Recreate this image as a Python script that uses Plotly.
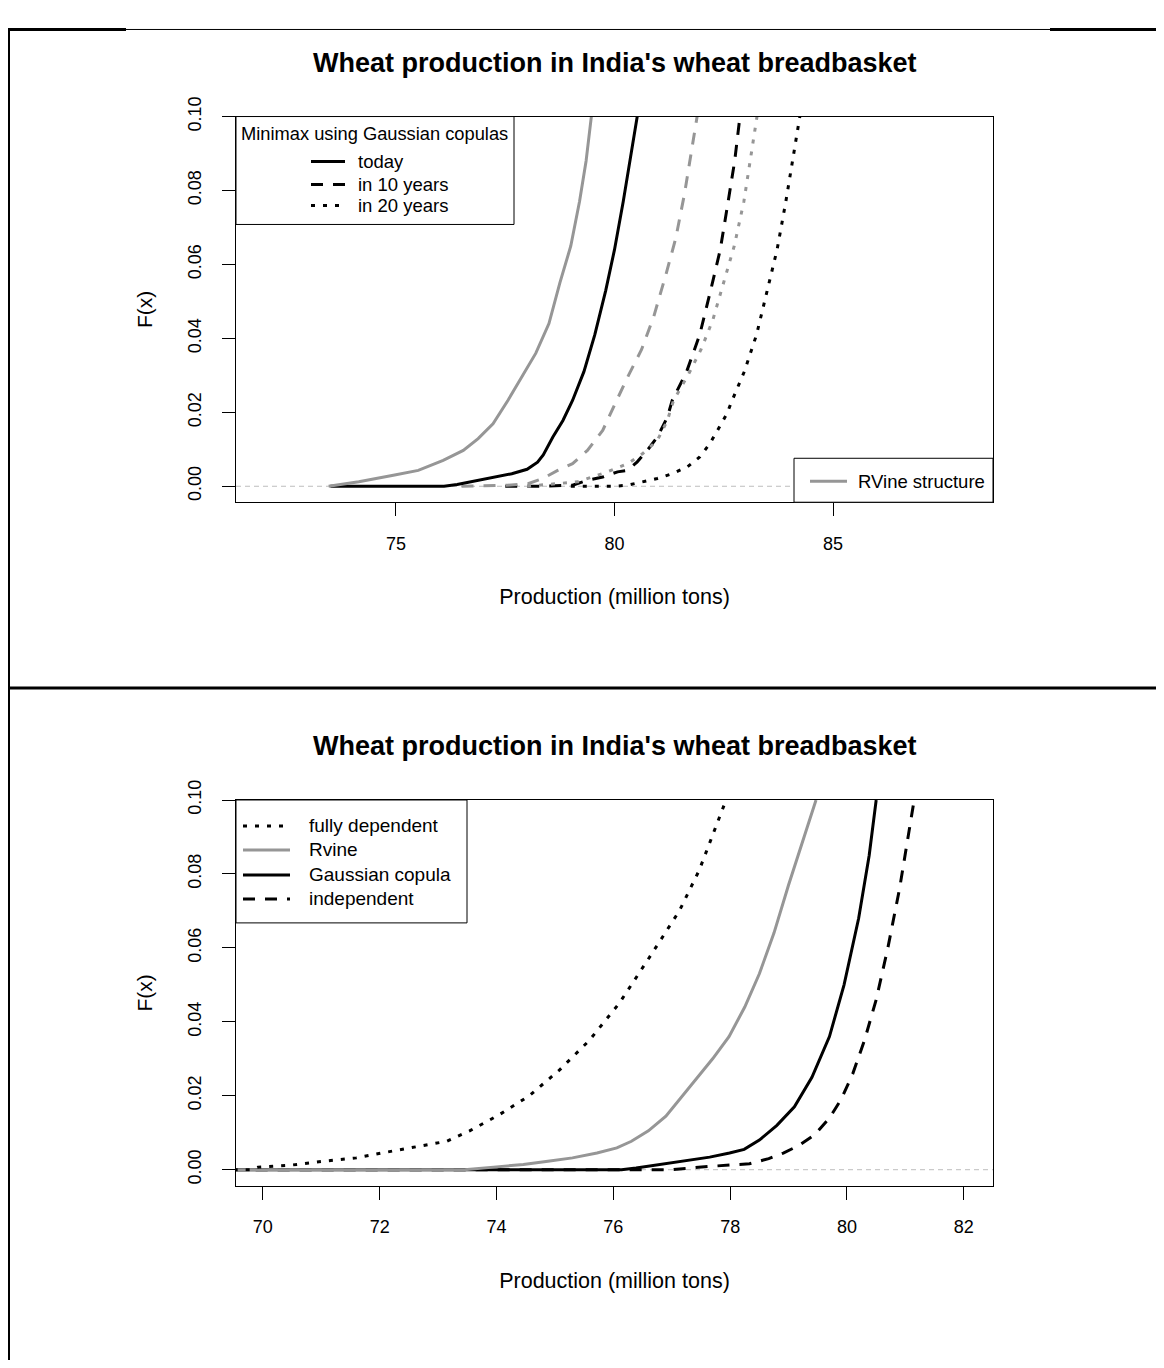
import plotly.graph_objects as go

FONT = "Liberation Sans, Arial, sans-serif"
PAGE_W, PAGE_H = 1164, 1368
OFF = 8                      # browser body margin
W, H = PAGE_W - 2 * OFF, PAGE_H - 2 * OFF
VSCALE, VSHIFT = 0.986, 19.5  # observed vertical mapping of the photographed page
GRAY = "#969696"
DASH = "12px,10px"
DOT = "4px,8px"

# ---------------- data: top panel (minimax, Gaussian copulas vs RVine) ----------------
rvine_today_x = [73.46, 74.15, 74.94, 75.51, 76.08, 76.54, 76.88, 77.22, 77.56, 77.9, 78.2, 78.5, 78.75, 79.0, 79.2, 79.35, 79.47]
rvine_today_y = [0, 0.0012, 0.003, 0.0043, 0.007, 0.0097, 0.0129, 0.0169, 0.0232, 0.030, 0.036, 0.044, 0.055, 0.065, 0.077, 0.088, 0.100]

gauss_today_x = [73.5, 76.1, 76.4, 76.8, 77.23, 77.65, 78.0, 78.24, 78.37, 78.59, 78.82, 79.04, 79.3, 79.55, 79.8, 80.0, 80.2, 80.35, 80.52]
gauss_today_y = [0, 0, 0.0005, 0.0014, 0.0023, 0.0034, 0.0046, 0.0065, 0.0085, 0.0133, 0.0178, 0.0232, 0.031, 0.041, 0.053, 0.064, 0.077, 0.088, 0.100]

rvine_10_x = [76.5, 77.56, 78.02, 78.36, 78.70, 79.04, 79.38, 79.73, 80.0, 80.32, 80.62, 80.9, 81.17, 81.4, 81.6, 81.76, 81.89]
rvine_10_y = [0, 0.0003, 0.0007, 0.0021, 0.0043, 0.0061, 0.0097, 0.0151, 0.022, 0.030, 0.037, 0.046, 0.057, 0.067, 0.079, 0.090, 0.100]

gauss_10_x = [77.5, 78.3, 79.04, 79.38, 79.73, 80.07, 80.30, 80.52, 80.75, 80.98, 81.21, 81.32, 81.65, 81.95, 82.2, 82.42, 82.6, 82.75, 82.87]
gauss_10_y = [0, 0, 0.0003, 0.0016, 0.0025, 0.0039, 0.0043, 0.0066, 0.0097, 0.0133, 0.0187, 0.0232, 0.031, 0.041, 0.053, 0.064, 0.077, 0.088, 0.100]

rvine_20_x = [78.0, 79.16, 79.84, 80.3, 80.64, 80.98, 81.21, 81.35, 81.68, 81.98, 82.25, 82.5, 82.74, 82.96, 83.12, 83.26]
rvine_20_y = [0, 0.0012, 0.0039, 0.0061, 0.0088, 0.0124, 0.0178, 0.0232, 0.030, 0.037, 0.045, 0.055, 0.065, 0.077, 0.089, 0.100]

gauss_20_x = [79.0, 80.0, 80.3, 80.64, 80.98, 81.32, 81.66, 81.95, 82.18, 82.4, 82.57, 82.69, 82.97, 83.25, 83.5, 83.72, 83.92, 84.08, 84.24]
gauss_20_y = [0, 0, 0.0003, 0.0012, 0.0021, 0.0034, 0.0052, 0.0079, 0.0115, 0.016, 0.0196, 0.0232, 0.031, 0.041, 0.053, 0.064, 0.077, 0.088, 0.100]

# ---------------- data: bottom panel (dependence structures) ----------------
fully_dep_x = [69.5, 69.8, 69.92, 70.46, 71.05, 71.6, 72.1, 72.61, 73.15, 73.54, 74.05, 74.56, 75.08, 75.59, 76.1, 76.6, 77.13, 77.47, 77.73, 77.93]
fully_dep_y = [0, 0, 0.0007, 0.0012, 0.0023, 0.0032, 0.0047, 0.0061, 0.0077, 0.0105, 0.0149, 0.020, 0.027, 0.035, 0.045, 0.057, 0.070, 0.081, 0.092, 0.100]

rvine_b_x = [69.5, 73.45, 73.95, 74.46, 74.88, 75.30, 75.72, 76.06, 76.31, 76.6, 76.9, 77.13, 77.4, 77.7, 77.98, 78.25, 78.5, 78.75, 79.0, 79.2, 79.35, 79.47]
rvine_b_y = [0, 0, 0.0007, 0.0014, 0.0023, 0.0032, 0.0045, 0.0059, 0.0077, 0.0105, 0.0145, 0.019, 0.024, 0.030, 0.036, 0.044, 0.053, 0.064, 0.077, 0.087, 0.094, 0.100]

gauss_b_x = [69.5, 76.14, 76.39, 76.81, 77.23, 77.65, 77.99, 78.24, 78.5, 78.8, 79.1, 79.4, 79.7, 79.95, 80.2, 80.38, 80.5]
gauss_b_y = [0, 0, 0.00045, 0.0014, 0.0023, 0.0034, 0.0045, 0.0055, 0.0080, 0.012, 0.017, 0.025, 0.036, 0.050, 0.068, 0.085, 0.100]

indep_x = [69.5, 76.98, 77.65, 78.33, 78.66, 78.91, 79.17, 79.45, 79.7, 79.9, 80.1, 80.3, 80.5, 80.7, 80.9, 81.03, 81.15]
indep_y = [0, 0, 0.0009, 0.0016, 0.0030, 0.0045, 0.0065, 0.0095, 0.014, 0.019, 0.026, 0.035, 0.046, 0.060, 0.076, 0.088, 0.100]

# axes
top_x_range = [71.34, 88.66]
bot_x_range = [69.54, 82.50]
y_range = [-0.00432, 0.10001]
y_ticks = [0, 0.02, 0.04, 0.06, 0.08, 0.10]
top_x_ticks = [75, 80, 85]
bot_x_ticks = [70, 72, 74, 76, 78, 80, 82]

TITLE = "Wheat production in India's wheat breadbasket"
XTITLE = "Production (million tons)"
YTITLE = "F(x)"

top_legend_title = "Minimax using Gaussian copulas"
top_legend_labels = ["today", "in 10 years", "in 20 years"]
top_legend_dashes = ["solid", DASH, DOT]
top_legend2_label = "RVine structure"
bot_legend_labels = ["fully dependent", "Rvine", "Gaussian copula", "independent"]
bot_legend_colors = ["black", GRAY, "black", "black"]
bot_legend_dashes = [DOT, "solid", "solid", DASH]


def px(x):
    return (x - OFF) / W


def py(y):
    page_y = (y - VSHIFT) / VSCALE
    return 1 - (page_y - OFF) / H


fig = go.Figure()


def add(x, y, color, dash, xa, ya):
    fig.add_trace(go.Scatter(x=x, y=y, mode="lines",
                             line=dict(color=color, width=3, dash=dash),
                             xaxis=xa, yaxis=ya, showlegend=False, hoverinfo="skip"))


# top panel traces
add(gauss_20_x, gauss_20_y, "black", DOT, "x", "y")
add(gauss_10_x, gauss_10_y, "black", DASH, "x", "y")
add(rvine_20_x, rvine_20_y, GRAY, DOT, "x", "y")
add(rvine_10_x, rvine_10_y, GRAY, DASH, "x", "y")
add(gauss_today_x, gauss_today_y, "black", "solid", "x", "y")
add(rvine_today_x, rvine_today_y, GRAY, "solid", "x", "y")

# bottom panel traces
add(indep_x, indep_y, "black", DASH, "x2", "y2")
add(gauss_b_x, gauss_b_y, "black", "solid", "x2", "y2")
add(rvine_b_x, rvine_b_y, GRAY, "solid", "x2", "y2")
add(fully_dep_x, fully_dep_y, "black", DOT, "x2", "y2")

axis_common = dict(showline=True, linecolor="black", linewidth=1, mirror=True,
                   ticks="outside", ticklen=13, tickwidth=1, tickcolor="black",
                   showgrid=False, zeroline=False,
                   tickfont=dict(family=FONT, size=18, color="black"))

fig.update_layout(
    width=W, height=H, autosize=False,
    margin=dict(l=0, r=0, t=0, b=0),
    paper_bgcolor="white", plot_bgcolor="white",
    showlegend=False,
    font=dict(family=FONT, color="black"),
    xaxis=dict(domain=[px(236), px(993)], anchor="y", range=top_x_range,
               tickvals=top_x_ticks, ticklabelstandoff=12,
               title=dict(text=XTITLE, font=dict(size=21.5), standoff=36), **axis_common),
    yaxis=dict(domain=[py(502), py(116)], anchor="x", range=y_range,
               tickvals=y_ticks, tickformat=".2f", tickangle=-90, ticklabelstandoff=14,
               title=dict(text=YTITLE, font=dict(size=21), standoff=26), **axis_common),
    xaxis2=dict(domain=[px(236), px(993)], anchor="y2", range=bot_x_range,
                tickvals=bot_x_ticks, ticklabelstandoff=12,
                title=dict(text=XTITLE, font=dict(size=21.5), standoff=36), **axis_common),
    yaxis2=dict(domain=[py(1186), py(800)], anchor="x2", range=y_range,
                tickvals=y_ticks, tickformat=".2f", tickangle=-90, ticklabelstandoff=14,
                title=dict(text=YTITLE, font=dict(size=21), standoff=26), **axis_common),
)

shapes = []
annotations = []

# reference line at F(x)=0
for xr, yr in (("x domain", "y"), ("x2 domain", "y2")):
    shapes.append(dict(type="line", xref=xr, yref=yr, x0=0, x1=1, y0=0, y1=0,
                       line=dict(color="#bdbdbd", width=1, dash="5px,4px"), layer="below"))


def pline(x0, y0, x1, y1, width=1, color="black", dash="solid"):
    shapes.append(dict(type="line", xref="paper", yref="paper",
                       x0=px(x0), y0=py(y0), x1=px(x1), y1=py(y1),
                       line=dict(color=color, width=width, dash=dash)))


def prect(x0, y0, x1, y1):
    shapes.append(dict(type="rect", xref="paper", yref="paper",
                       x0=px(x0), y0=py(y0), x1=px(x1), y1=py(y1),
                       line=dict(color="black", width=1), fillcolor="white"))


def ptext(x, y, text, size=18, xanchor="left"):
    annotations.append(dict(xref="paper", yref="paper", x=px(x), y=py(y), text=text,
                            showarrow=False, xanchor=xanchor, yanchor="middle",
                            font=dict(family=FONT, size=size, color="black")))


# top-left legend
prect(236, 116, 514, 224)
ptext(239, 133, top_legend_title, size=18.3)
for i, (lab, d) in enumerate(zip(top_legend_labels, top_legend_dashes)):
    yy = [161, 184, 205][i]
    pline(311, yy, 345, yy, width=3, dash=d)
    ptext(356, yy, lab, size=18.5)

# top-right legend
prect(794, 458, 993, 502)
pline(810, 481, 847, 481, width=3, color=GRAY)
ptext(856, 481, top_legend2_label, size=18.5)

# bottom legend
prect(236, 800, 467, 923)
for i, (lab, c, d) in enumerate(zip(bot_legend_labels, bot_legend_colors, bot_legend_dashes)):
    yy = [826, 850, 875, 899][i]
    pline(243, yy, 290, yy, width=3, color=c, dash=d)
    ptext(307, yy, lab, size=19)

# titles
ptext(614.5, 62, "<b>" + TITLE + "</b>", size=27, xanchor="center")
ptext(614.5, 746, "<b>" + TITLE + "</b>", size=27, xanchor="center")

# page frame lines (top line as high as the page allows)
top_line_y = VSHIFT + VSCALE * (OFF + 1.5)
pline(8, top_line_y, 126, top_line_y, width=3)
pline(126, top_line_y, 1050, top_line_y, width=1)
pline(1050, top_line_y, 1156, top_line_y, width=3)
pline(9, top_line_y - 1, 9, 1368, width=2)
pline(8, 688, 1156, 688, width=3)

fig.update_layout(shapes=shapes, annotations=annotations)
fig.write_html("out.html")
